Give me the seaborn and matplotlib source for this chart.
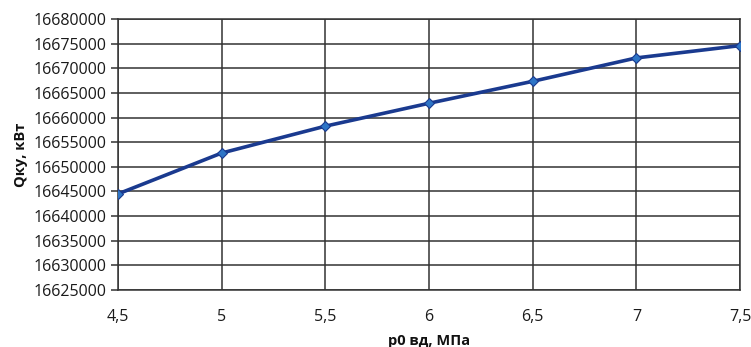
import matplotlib
matplotlib.use("Agg")
import matplotlib.pyplot as plt
import seaborn as sns
import pandas as pd
from matplotlib.ticker import FuncFormatter, MultipleLocator

p0 = [4.5, 5.0, 5.5, 6.0, 6.5, 7.0, 7.5]
q_ku = [16644500, 16652800, 16658250, 16662900, 16667350, 16672100, 16674600]
x_ticks = [4.5, 5.0, 5.5, 6.0, 6.5, 7.0, 7.5]

df = pd.DataFrame({"p0": p0, "q": q_ku})

sns.set_theme(style="white")
plt.rcParams["font.family"] = ["Open Sans", "DejaVu Sans"]

fig = plt.figure(figsize=(7.51, 3.47), dpi=100)
ax = fig.add_axes([118/751, 1 - 290/347, (740-118)/751, (290-19)/347])

sns.lineplot(data=df, x="p0", y="q", ax=ax, color="#1a3a8f", linewidth=2.6,
             marker="D", markersize=5, markerfacecolor="#2e75c6",
             markeredgecolor="#1a3a8f", markeredgewidth=0.8, zorder=3)

ax.set_xlim(4.5, 7.5)
ax.set_ylim(16625000, 16680000)
ax.set_xticks(x_ticks)
ax.yaxis.set_major_locator(MultipleLocator(5000))
ax.xaxis.set_major_formatter(FuncFormatter(lambda v, _: (f"{v:g}").replace(".", ",")))
ax.yaxis.set_major_formatter(FuncFormatter(lambda v, _: f"{v:.0f}"))
ax.grid(True, color="#333333", linewidth=1.1)
for s in ax.spines.values():
    s.set_color("#333333")
    s.set_linewidth(1.1)
ax.tick_params(axis="y", length=5, width=1.1, color="#333333", labelsize=11.5,
               labelcolor="#1a1a1a", pad=3, left=True)
ax.tick_params(axis="x", length=0, labelsize=11.5, labelcolor="#1a1a1a", pad=14)
for lbl in ax.get_xticklabels() + ax.get_yticklabels():
    lbl.set_fontweight("medium")
ax.set_xlabel("p0 вд, МПа", fontsize=10.5, fontweight="bold", labelpad=6, color="#111111")
ax.set_ylabel("Qку, кВт", fontsize=10.5, fontweight="bold", labelpad=4, color="#111111")

fig.savefig("out.png", dpi=100, facecolor="white")
